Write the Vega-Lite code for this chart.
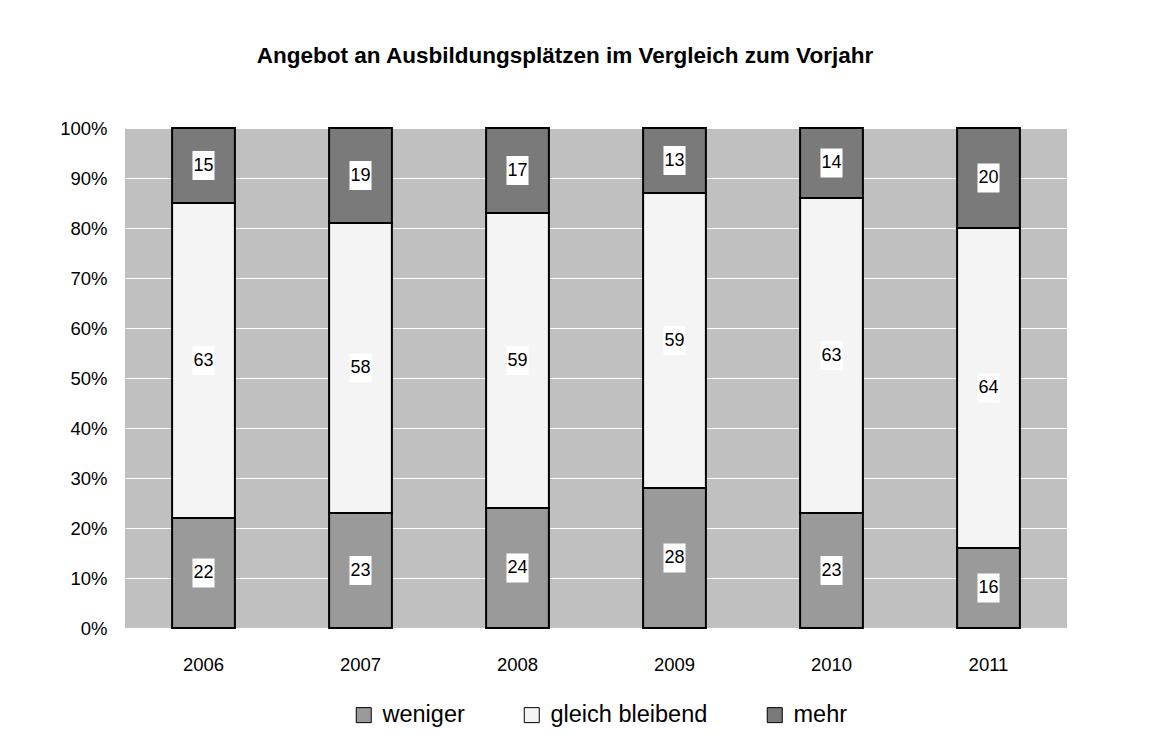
{
  "$schema": "https://vega.github.io/schema/vega-lite/v6.json",
  "width": 942,
  "height": 500,
  "autosize": "none",
  "padding": {"left": 125, "top": 128, "right": 83, "bottom": 117},
  "background": "white",
  "title": {
    "text": "Angebot an Ausbildungsplätzen im Vergleich zum Vorjahr",
    "font": "Liberation Sans",
    "fontSize": 22.5,
    "fontWeight": "bold",
    "color": "black",
    "anchor": "middle",
    "dx": -31,
    "offset": 52
  },
  "data": {
    "values": [
      {"year": "2006", "category": "weniger", "ord": 1, "value": 22},
      {"year": "2006", "category": "gleich bleibend", "ord": 2, "value": 63},
      {"year": "2006", "category": "mehr", "ord": 3, "value": 15},
      {"year": "2007", "category": "weniger", "ord": 1, "value": 23},
      {"year": "2007", "category": "gleich bleibend", "ord": 2, "value": 58},
      {"year": "2007", "category": "mehr", "ord": 3, "value": 19},
      {"year": "2008", "category": "weniger", "ord": 1, "value": 24},
      {"year": "2008", "category": "gleich bleibend", "ord": 2, "value": 59},
      {"year": "2008", "category": "mehr", "ord": 3, "value": 17},
      {"year": "2009", "category": "weniger", "ord": 1, "value": 28},
      {"year": "2009", "category": "gleich bleibend", "ord": 2, "value": 59},
      {"year": "2009", "category": "mehr", "ord": 3, "value": 13},
      {"year": "2010", "category": "weniger", "ord": 1, "value": 23},
      {"year": "2010", "category": "gleich bleibend", "ord": 2, "value": 63},
      {"year": "2010", "category": "mehr", "ord": 3, "value": 14},
      {"year": "2011", "category": "weniger", "ord": 1, "value": 16},
      {"year": "2011", "category": "gleich bleibend", "ord": 2, "value": 64},
      {"year": "2011", "category": "mehr", "ord": 3, "value": 20}
    ]
  },
  "transform": [
    {"stack": "value", "groupby": ["year"], "sort": [{"field": "ord", "order": "ascending"}], "as": ["v0", "v1"]},
    {"calculate": "(datum.v0 + datum.v1) / 2", "as": "mid"}
  ],
  "encoding": {
    "x": {
      "field": "year",
      "type": "nominal",
      "title": null,
      "scale": {"paddingInner": 0.6, "paddingOuter": 0.3},
      "axis": {"labelAngle": 0, "ticks": false, "domain": false, "labelFont": "Liberation Sans", "labelFontSize": 18.5, "labelColor": "black", "labelPadding": 27}
    }
  },
  "layer": [
    {
      "mark": {"type": "bar", "stroke": "black", "strokeWidth": 2},
      "encoding": {
        "y": {
          "field": "v0",
          "type": "quantitative",
          "title": null,
          "scale": {"domain": [0, 100]},
          "axis": {"values": [0, 10, 20, 30, 40, 50, 60, 70, 80, 90, 100], "labelExpr": "datum.value + '%'", "ticks": false, "domain": false, "gridColor": "white", "gridWidth": 1, "gridOpacity": 1, "labelFont": "Liberation Sans", "labelFontSize": 18.5, "labelColor": "black", "labelPadding": 18}
        },
        "y2": {"field": "v1"},
        "color": {
          "field": "category",
          "type": "nominal",
          "title": null,
          "sort": ["weniger", "gleich bleibend", "mehr"],
          "scale": {"domain": ["weniger", "gleich bleibend", "mehr"], "range": ["#9a9a9a", "#f4f4f4", "#7a7a7a"]},
          "legend": {
            "orient": "none",
            "legendX": 227,
            "legendY": 575,
            "direction": "horizontal",
            "symbolType": "square",
            "symbolSize": 225,
            "symbolStrokeColor": "black",
            "symbolStrokeWidth": 1,
            "symbolOpacity": 1,
            "labelFont": "Liberation Sans",
            "labelFontSize": 23.5,
            "labelColor": "black",
            "labelOffset": 7,
            "columnPadding": 55,
            "labelLimit": 400
          }
        }
      }
    },
    {
      "mark": {"type": "point", "shape": "M-0.76,-1H0.76V1H-0.76Z", "filled": true, "fill": "white", "opacity": 1, "size": 841},
      "encoding": {
        "y": {"field": "mid", "type": "quantitative"}
      }
    },
    {
      "mark": {"type": "text", "font": "Liberation Sans", "fontSize": 18, "color": "black", "baseline": "middle", "align": "center"},
      "encoding": {
        "y": {"field": "mid", "type": "quantitative"},
        "text": {"field": "value", "type": "quantitative"}
      }
    }
  ],
  "config": {
    "view": {"fill": "#c0c0c0", "stroke": null}
  }
}
